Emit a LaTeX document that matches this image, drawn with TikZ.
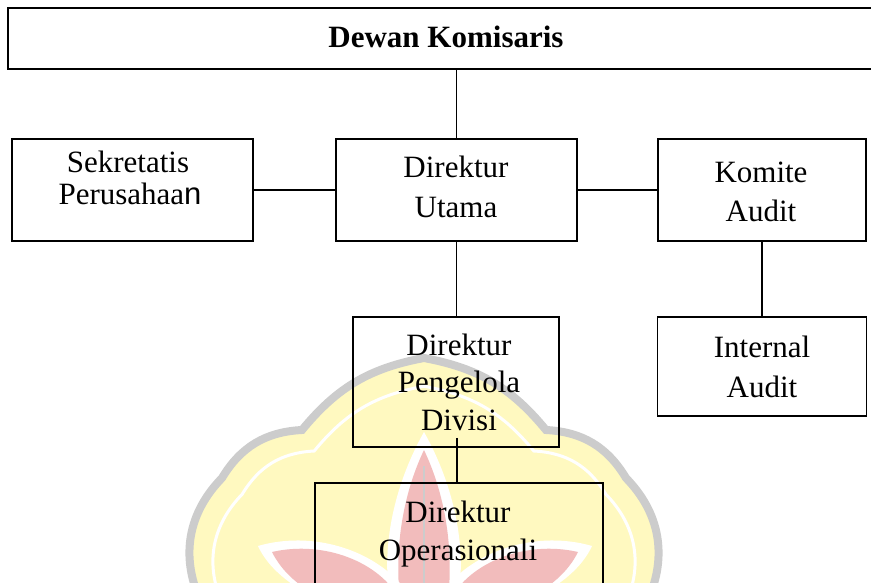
\documentclass[tikz,border=0pt]{standalone}
\usepackage{fontspec}
\setmainfont{Liberation Serif}
\newfontfamily\arialfont{Liberation Sans}
\usetikzlibrary{calc}
\definecolor{wmyellow}{RGB}{255,249,192}
\definecolor{wmgray}{RGB}{204,204,204}
\definecolor{wmpink}{RGB}{242,188,188}
\def\wmpath{(200,600) to[bend left=34] (222,478) to[bend left=28] (302,430) to[bend left=20] (424,358) to[bend left=20] (546,430) to[bend left=28] (626,478) to[bend left=34] (648,600)}
\begin{document}
\begin{tikzpicture}[x=1pt,y=-1pt,
  box/.style={draw=black, line width=1.8pt, rectangle, inner sep=0pt},
  ln/.style={anchor=base, inner sep=0pt, font=\fontsize{31}{38}\selectfont},
  conn/.style={draw=black, line width=1.8pt}]
\useasboundingbox (0,0) rectangle (871,583);
\clip (0,0) rectangle (871,583);
\fill[white] (0,0) rectangle (871,583);
% watermark
\fill[wmyellow] \wmpath -- cycle;
\draw[wmgray, line width=8pt] \wmpath;
\begin{scope}[shift={(424,640)}, scale=0.9, shift={(-424,-640)}]
  \draw[white, line width=3pt] \wmpath;
\end{scope}
\fill[white] (424,432) .. controls (398,478) and (380,540) .. (390,600) -- (458,600) .. controls (468,540) and (450,478) .. (424,432) -- cycle;
\fill[wmpink] (424,450) .. controls (404,492) and (394,545) .. (400,600) -- (448,600) .. controls (454,545) and (444,492) .. (424,450) -- cycle;
\fill[white] (258,546) .. controls (320,528) and (388,556) .. (412,600) -- (318,600) .. controls (290,585) and (268,568) .. (258,546) -- cycle;
\fill[wmpink] (272,552) .. controls (324,540) and (380,562) .. (400,600) -- (326,600) .. controls (300,588) and (282,572) .. (272,552) -- cycle;
\fill[white] (592,546) .. controls (530,528) and (462,556) .. (438,600) -- (532,600) .. controls (560,585) and (582,568) .. (592,546) -- cycle;
\fill[wmpink] (578,552) .. controls (526,540) and (470,562) .. (450,600) -- (524,600) .. controls (550,588) and (568,572) .. (578,552) -- cycle;
\draw[wmgray, line width=2.5pt] (424,466) -- (424,600);
% boxes
\node[box, minimum width=872pt, minimum height=61pt] (dk) at (444,38.5) {};
\node[box, minimum width=241pt, minimum height=102pt] (sek) at (132.5,190) {};
\node[box, minimum width=241pt, minimum height=102pt] (du) at (456.5,190) {};
\node[box, minimum width=208pt, minimum height=102pt] (ka) at (762,190) {};
\node[box, minimum width=209pt, minimum height=99pt] (ia) at (762,366.5) {};
\node[box, line width=1.5pt, minimum width=206pt, minimum height=130pt] (dp) at (456,382) {};
\node[box, line width=1.5pt, minimum width=288pt, minimum height=137pt] (do) at (459,551.5) {};
% texts
\node[ln, font=\bfseries\fontsize{31}{38}\selectfont] (tdk) at (446,48) {Dewan Komisaris};
\node[ln] (ts1) at (128,173) {Sekretatis};
\node[ln] (ts2) at (130,205) {Perusahaa{\arialfont n}};
\node[ln] (tu1) at (456,178) {Direktur};
\node[ln] (tu2) at (456,218) {Utama};
\node[ln] (tk1) at (761,183) {Komite};
\node[ln] (tk2) at (761,222) {Audit};
\node[ln] (ti1) at (762,357) {Internal};
\node[ln] (ti2) at (762,397) {Audit};
\node[ln] (tp1) at (459,355) {Direktur};
\node[ln] (tp2) at (459,392) {Pengelola};
\node[ln] (tp3) at (459,430) {Divisi};
\node[ln] (to1) at (458,522) {Direktur};
\node[ln] (to2) at (458,560) {Operasionali};
% connectors
\draw[conn] (du.north) -- (du.north |- dk.south);
\draw[conn] (sek.east) -- (du.west);
\draw[conn] (du.east) -- (ka.west);
\draw[conn] (du.south) -- (du.south |- dp.north);
\draw[conn] (ka.south) -- (ia.north);
\coordinate (dpin) at ($(dp.south)+(1,-10)$);
\draw[conn, line width=1.3pt] (dpin) -- (dpin |- do.north);
\end{tikzpicture}
\end{document}
